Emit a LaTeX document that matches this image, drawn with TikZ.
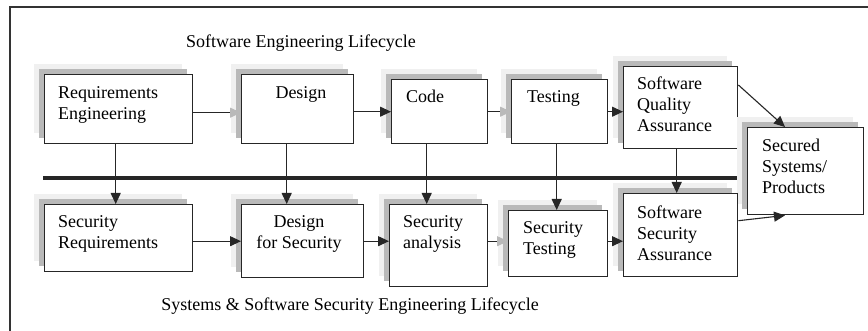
\documentclass[tikz,border=0pt]{standalone}
\usepackage{fontspec}
\setmainfont{Liberation Serif}
\usetikzlibrary{arrows.meta,shadows}
\begin{document}
\begin{tikzpicture}[x=1pt,y=-1pt,
  txt/.style={inner sep=0pt, font=\fontsize{18}{21}\selectfont, align=left},
  ctxt/.style={inner sep=0pt, font=\fontsize{18}{21}\selectfont, align=center},
  box/.style={draw=black!85, line width=1.4pt, fill=white, anchor=north west, inner sep=0pt,
    general shadow={shadow xshift=-11pt, shadow yshift=11pt, fill=gray!12},
    general shadow={shadow xshift=-6pt, shadow yshift=6pt, fill=gray!55}},
  arr/.style={line width=1.1pt, draw=black!85, -{Triangle[length=11pt,width=10pt]}},
  garr/.style={line width=1.1pt, draw=black!85, -{Triangle[length=11pt,width=10pt,color=gray!55]}}
]
\useasboundingbox (0,0) rectangle (868,331);
% frame
\coordinate (fBL) at (10,331);
\coordinate (fTL) at (10,7);
\coordinate (fTR) at (868,7);
\draw[line width=1.5pt, black!80] (fBL) -- (fTL) -- (fTR);

% titles
\node[txt, anchor=base] (t1) at (301,48) {Software Engineering Lifecycle};
\node[txt, anchor=base] (t2) at (350,310) {Systems \& Software Security Engineering Lifecycle};

% boxes top row
\node[box, minimum width=148pt, minimum height=69pt] (re) at (44,74) {};
\node[box, minimum width=112pt, minimum height=69pt] (de) at (241,74) {};
\node[box, minimum width=96pt, minimum height=64pt] (co) at (391,79) {};
\node[box, minimum width=96pt, minimum height=64pt] (te) at (511,79) {};
\node[box, minimum width=114pt, minimum height=82pt] (sqa) at (623,66) {};
\node[box, minimum width=116pt, minimum height=87pt] (sec) at (747,127) {};
% boxes bottom row
\node[box, minimum width=148pt, minimum height=67pt] (sr) at (44,204) {};
\node[box, minimum width=122pt, minimum height=73pt] (dfs) at (241,204) {};
\node[box, minimum width=98pt, minimum height=82pt] (sa) at (389,204) {};
\node[box, minimum width=99pt, minimum height=66pt] (st) at (508,210) {};
\node[box, minimum width=114pt, minimum height=83pt] (ssa) at (623,193) {};

% texts (anchor = baseline of last line)
\node[txt, anchor=base west] (reT) at (58,120) {Requirements\\Engineering};
\node[ctxt, anchor=base] (deT) at (301,99) {Design};
\node[txt, anchor=base west] (coT) at (406,103) {Code};
\node[txt, anchor=base west] (teT) at (527,103) {Testing};
\node[txt, anchor=base west] (sqaT) at (637,132) {Software\\Quality\\Assurance};
\node[txt, anchor=base west] (secT) at (762,194) {Secured\\Systems/\\Products};
\node[txt, anchor=base west] (srT) at (58,249) {Security\\Requirements};
\node[ctxt, anchor=base] (dfsT) at (299,249) {Design\\for Security};
\node[txt, anchor=base west] (saT) at (403,249) {Security\\analysis};
\node[txt, anchor=base west] (stT) at (523,255) {Security\\Testing};
\node[txt, anchor=base west] (ssaT) at (637,261) {Software\\Security\\Assurance};

% bar
\coordinate (barL) at (43,178);
\coordinate (barR) at (737,178);
\draw[line width=4.5pt, black!85] (barL) -- (barR);

% horizontal arrows top
\draw[garr] ([yshift=-3.5pt]re.east) -- ([yshift=-3.5pt]de.west);
\draw[arr] (de.east |- co.west) -- (co.west);
\draw[garr] (co.east) -- (te.west);
\draw[arr] (te.east) -- (sqa.west |- te.east);
% horizontal arrows bottom
\draw[arr] (sr.east |- dfs.west) -- (dfs.west);
\draw[arr] (dfs.east) -- (sa.west |- dfs.east);
\draw[garr] (sa.east |- dfs.east) -- (st.west |- dfs.east);
\draw[arr] (st.east |- dfs.east) -- (ssa.west |- dfs.east);
% vertical arrows
\draw[arr] ([xshift=-3pt]re.south) -- ([xshift=-3pt]re.south |- sr.north);
\draw[arr] ([xshift=-11pt]de.south) -- ([xshift=-11pt]de.south |- dfs.north);
\draw[arr] ([xshift=-13pt]co.south) -- ([xshift=-13pt]co.south |- sa.north);
\draw[arr] ([xshift=-3pt]te.south) -- ([xshift=-3pt]te.south |- st.north);
\draw[arr] ([xshift=-4pt]sqa.south) -- ([xshift=-4pt]sqa.south |- ssa.north);
% diagonal arrows
\draw[arr] ([yshift=-19pt]sqa.north east) -- ([xshift=38pt]sec.north west);
\draw[arr] ([yshift=14.5pt]ssa.east) -- ([xshift=38pt]sec.south west);
\end{tikzpicture}
\end{document}
